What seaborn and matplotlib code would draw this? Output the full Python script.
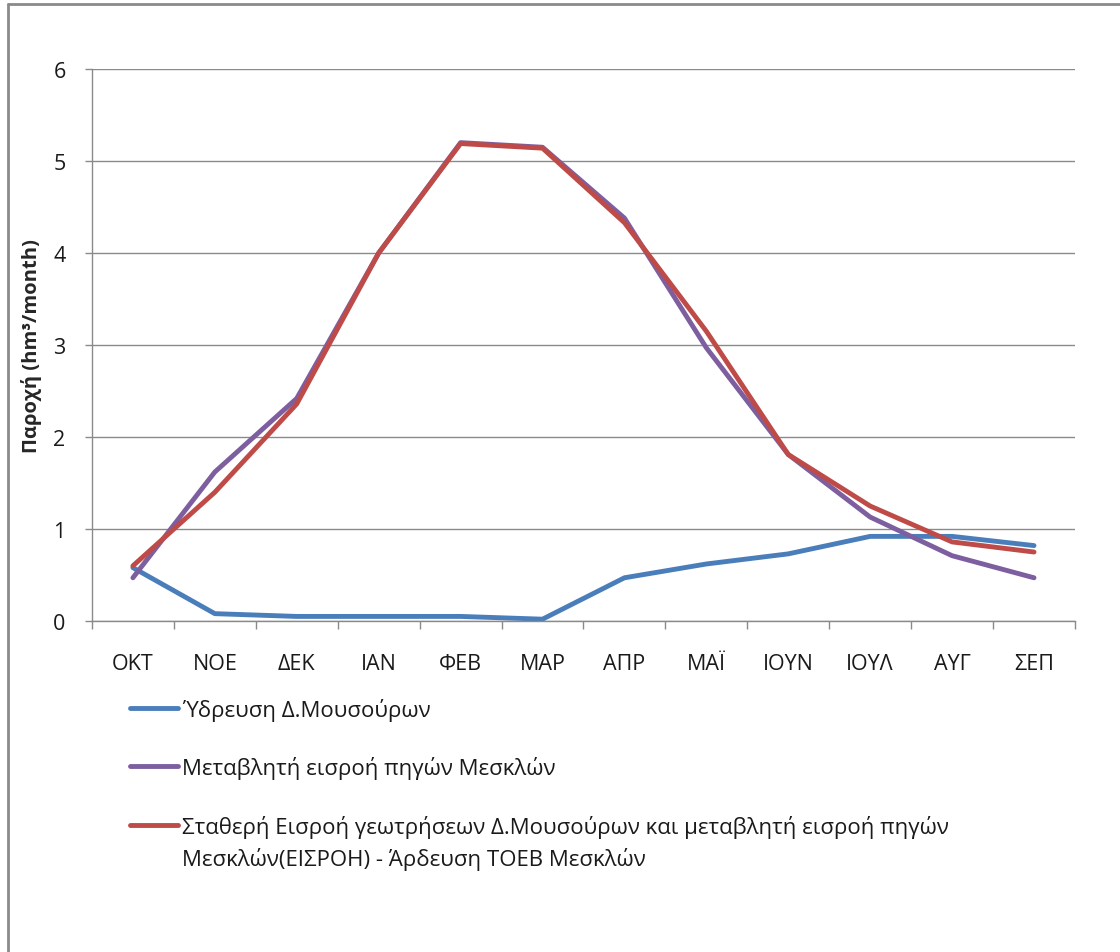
import matplotlib
matplotlib.use("Agg")
import matplotlib.pyplot as plt
from matplotlib.lines import Line2D
from matplotlib.ticker import FixedLocator
import numpy as np
import pandas as pd
import seaborn as sns

# Monthly values (hm3/month), hydrological year October -> September
months = ["ΟΚΤ", "ΝΟΕ", "ΔΕΚ", "ΙΑΝ", "ΦΕΒ", "ΜΑΡ", "ΑΠΡ", "ΜΑΪ", "ΙΟΥΝ", "ΙΟΥΛ", "ΑΥΓ", "ΣΕΠ"]
water_supply = [0.58, 0.08, 0.05, 0.05, 0.05, 0.02, 0.47, 0.62, 0.73, 0.92, 0.92, 0.82]
springs_variable = [0.47, 1.62, 2.42, 4.0, 5.2, 5.15, 4.38, 2.97, 1.81, 1.13, 0.71, 0.47]
net_inflow = [0.60, 1.40, 2.36, 4.0, 5.19, 5.14, 4.33, 3.15, 1.81, 1.25, 0.86, 0.75]

series_names = [
    "Ύδρευση Δ.Μουσούρων",
    "Μεταβλητή εισροή πηγών Μεσκλών",
    "Σταθερή Εισροή γεωτρήσεων Δ.Μουσούρων και μεταβλητή εισροή πηγών",
]
label_continuation = "Μεσκλών(ΕΙΣΡΟΗ) - Άρδευση ΤΟΕΒ Μεσκλών"
series_colors = ["#4A7EBB", "#7D5FA0", "#BE4B48"]
y_ticks = [0, 1, 2, 3, 4, 5, 6]
y_label = "Παροχή (hm³/month)"

df = pd.DataFrame({
    "month": months * 3,
    "pos": list(range(len(months))) * 3,
    "value": water_supply + springs_variable + net_inflow,
    "series": [series_names[0]] * 12 + [series_names[1]] * 12 + [series_names[2]] * 12,
})

sns.set_theme(style="white")
plt.rcParams["font.family"] = ["Open Sans", "DejaVu Sans"]
plt.rcParams["text.color"] = "#1a1a1a"

fig = plt.figure(figsize=(11.2, 9.53), dpi=100)
ax = fig.add_axes([0.0821, 0.3473, 0.8777, 0.5792])

sns.lineplot(data=df, x="pos", y="value", hue="series", hue_order=series_names,
             palette=series_colors, linewidth=3.5, ax=ax, legend=False,
             sort=False)
for ln in ax.lines:
    ln.set_solid_joinstyle("round")
    ln.set_solid_capstyle("round")

ax.set_xlim(-0.5, len(months) - 0.5)
ax.set_ylim(0, 6)
ax.set_yticks(y_ticks)
ax.set_yticklabels([str(t) for t in y_ticks])
ax.yaxis.grid(True, color="#8a8a8a", linewidth=1.0)
ax.xaxis.grid(False)
ax.set_axisbelow(True)

ax.set_xticks(range(len(months)))
ax.set_xticklabels(months)
ax.xaxis.set_minor_locator(FixedLocator(np.arange(-0.5, len(months), 1.0)))
ax.tick_params(axis="x", which="major", length=0, pad=23, labelsize=15.5, colors="#1a1a1a")
ax.tick_params(axis="x", which="minor", length=6, width=1.0, color="#8a8a8a", bottom=True)
ax.tick_params(axis="y", which="major", length=5, width=1.0, color="#8a8a8a", pad=14,
               labelsize=15.5, left=True, labelcolor="#1a1a1a")

for side in ["top", "right"]:
    ax.spines[side].set_visible(False)
for side in ["left", "bottom"]:
    ax.spines[side].set_color("#8a8a8a")
    ax.spines[side].set_linewidth(1.0)

ax.set_xlabel("")
ax.set_ylabel(y_label, fontsize=14.5, fontweight="bold", labelpad=8)

handles = [Line2D([], [], color=c, linewidth=3.5) for c in series_colors]
leg = ax.legend(handles, series_names, loc="upper left",
                bbox_to_anchor=(0.116, 0.267), bbox_transform=fig.transFigure,
                frameon=False, fontsize=16, handlelength=2.15, handletextpad=0.18,
                labelspacing=1.6, borderaxespad=0, borderpad=0)

# Second line of the last legend entry, aligned under its first line
fig.canvas.draw()
renderer = fig.canvas.get_renderer()
last_text = leg.get_texts()[-1]
bb = last_text.get_window_extent(renderer)
x0, y0 = fig.transFigure.inverted().transform((bb.x0, bb.y0))
fig.text(x0, y0 - 32 / 953, label_continuation, fontsize=16, ha="left", va="bottom")

# Outer chart-area frame
fig.add_artist(Line2D([8 / 1120, 8 / 1120], [-0.1, 1 - 5 / 953], transform=fig.transFigure,
                      color="#8a8a8a", linewidth=2))
fig.add_artist(Line2D([8 / 1120, 1.1], [1 - 5 / 953, 1 - 5 / 953], transform=fig.transFigure,
                      color="#8a8a8a", linewidth=2))

fig.savefig("out.png", dpi=100, facecolor="white")
